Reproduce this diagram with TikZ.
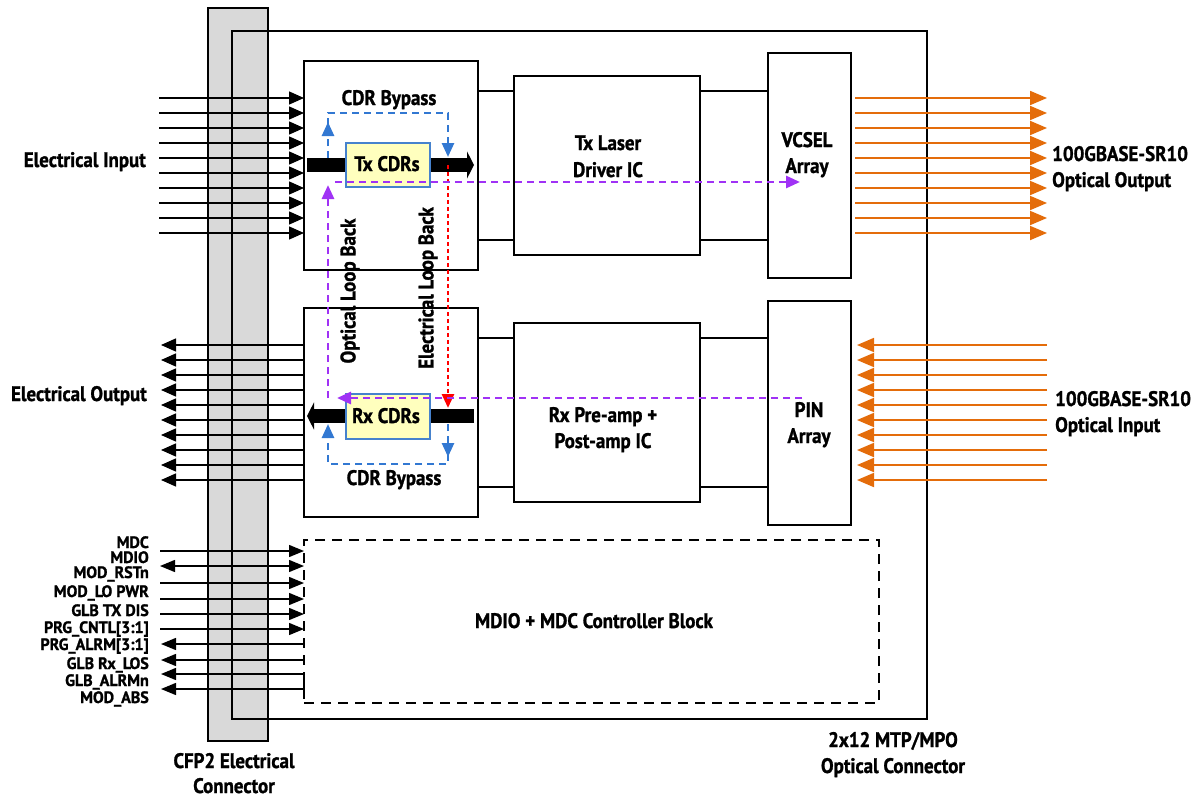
\documentclass[tikz,border=0pt]{standalone}
\usepackage{fontspec}
\setmainfont{PT Sans}[FakeStretch=0.9, BoldFeatures={FakeBold=1.2}]
\newfontfamily\sigfont{PT Sans}[FakeStretch=0.97, BoldFeatures={FakeBold=1.2}]
\usetikzlibrary{arrows.meta}
\definecolor{org}{RGB}{228,108,10}
\definecolor{prp}{RGB}{160,50,245}
\definecolor{blu}{RGB}{50,120,210}
\definecolor{cdrfill}{RGB}{255,255,190}
\definecolor{cdredge}{RGB}{70,130,205}
\definecolor{stripgray}{RGB}{217,217,217}
\tikzset{
  box/.style={draw, line width=1.4pt, inner sep=0pt, outer sep=0pt, anchor=north west},
  conn/.style={line width=1.4pt},
  lbl/.style={font=\fontsize{21}{24}\selectfont\bfseries, inner sep=0pt, anchor=base},
  siglbl/.style={font=\sigfont\fontsize{16.5}{17}\selectfont\bfseries, inner sep=0pt, anchor=base east, text height=11pt, text depth=1pt},
  blkarr/.style={line width=1.4pt, -{Triangle[length=15pt,width=13pt]}},
  sigarr/.style={line width=1.4pt, -{Triangle[length=15pt,width=12pt]}},
  orgarr/.style={line width=1.8pt, draw=org, -{Triangle[length=17pt,width=14pt]}, color=org},
  bar/.style={line width=14pt},
  prpdash/.style={draw=prp, line width=2.8pt, dash pattern=on 7pt off 5pt, -{Triangle[length=14pt,width=12pt]}, color=prp},
  bludash/.style={draw=blu, line width=2.6pt, dash pattern=on 7pt off 5pt},
  bluarr/.style={bludash, -{Triangle[length=14pt,width=12pt]}, color=blu},
  reddot/.style={draw=red, line width=2.8pt, dash pattern=on 4pt off 3pt, -{Triangle[length=14pt,width=12pt]}, color=red},
  cdrbox/.style={draw=cdredge, fill=cdrfill, line width=1.4pt, inner sep=0pt, outer sep=0pt, anchor=north west}
}
\begin{document}
\begin{tikzpicture}[x=1pt,y=-1pt]
\useasboundingbox (0,0) rectangle (1192,798);
% connector strip and outer module
\node[box, fill=stripgray, minimum width=60pt, minimum height=733pt] (strip) at (208,8) {};
\node[box, minimum width=695pt, minimum height=688pt] (outer) at (232,31) {};
% blocks
\node[box, fill=white, minimum width=174pt, minimum height=209pt] (txblk) at (304,61) {};
\node[box, fill=white, minimum width=174pt, minimum height=209pt] (rxblk) at (304,308) {};
\node[box, fill=white, minimum width=186pt, minimum height=179pt] (txic) at (514,76) {};
\node[box, fill=white, minimum width=186pt, minimum height=179pt] (rxic) at (514,323) {};
\node[box, fill=white, minimum width=83pt, minimum height=225pt] (vcsel) at (768,53) {};
\node[box, fill=white, minimum width=83pt, minimum height=224pt] (pin) at (768,301) {};
\node[box, dash pattern=on 10pt off 7pt, minimum width=575pt, minimum height=163pt] (mdiobox) at (304,540) {};
% block interconnects
\foreach \y in {91,240} {
  \coordinate (ty) at (0,\y);
  \draw[conn] (txblk.east |- ty) -- (txic.west |- ty);
  \draw[conn] (txic.east |- ty) -- (vcsel.west |- ty);
}
\foreach \y in {338,487} {
  \coordinate (ry) at (0,\y);
  \draw[conn] (rxblk.east |- ry) -- (rxic.west |- ry);
  \draw[conn] (rxic.east |- ry) -- (pin.west |- ry);
}
% electrical inputs / outputs
\foreach \i in {0,...,9} {
  \coordinate (ein) at (159,{98+15*\i});
  \draw[blkarr] (ein) -- (ein -| txblk.west);
  \coordinate (eout) at (161,{345+15*\i});
  \draw[blkarr] (eout -| rxblk.west) -- (eout);
  \coordinate (oout) at (1047,{98+15*\i});
  \draw[orgarr, shorten <=4pt] (oout -| vcsel.east) -- (oout);
  \coordinate (oin) at (1047,{345+15*\i});
  \draw[orgarr, shorten >=6pt] (oin) -- (oin -| pin.east);
}
% management signals
\foreach \y in {551,583,599,614,629} {
  \coordinate (sg) at (160,\y);
  \draw[sigarr] (sg) -- (sg -| mdiobox.west);
}
\coordinate (sgd) at (160,566);
\draw[line width=1.4pt, {Triangle[length=15pt,width=12pt]}-{Triangle[length=15pt,width=12pt]}] (sgd) -- (sgd -| mdiobox.west);
\foreach \y in {644,660,674,689} {
  \coordinate (sl) at (161,\y);
  \draw[sigarr] (sl -| mdiobox.west) -- (sl);
}
\draw[line width=1.4pt] (304,674) -- (304,689);
% CDR bars
\coordinate (txbarL) at (307,165);
\coordinate (txbarR) at (474,165);
\draw[bar, -{Triangle[length=7pt,width=27pt]}] (txbarL) -- (txbarR);
\coordinate (rxbarL) at (307,416);
\coordinate (rxbarR) at (474,416);
\draw[bar, -{Triangle[length=7pt,width=27pt]}] (rxbarR) -- (rxbarL);
\node[cdrbox, minimum width=84pt, minimum height=44pt] (txcdr) at (346,143) {};
\node[cdrbox, minimum width=84pt, minimum height=45pt] (rxcdr) at (346,394) {};
% CDR bypass paths
\coordinate (tb1) at (328,158);
\coordinate (tb2) at (328,122);
\coordinate (tb3) at (328,113);
\coordinate (tb4) at (448,113);
\coordinate (tb5) at (448,157);
\draw[bluarr] (tb1) -- (tb2);
\draw[bluarr] (328,125) -- (tb3) -- (tb4) -- (tb5);
\coordinate (rb1) at (448,424);
\coordinate (rb2) at (448,457);
\coordinate (rb3) at (448,464);
\coordinate (rb4) at (328,464);
\coordinate (rb5) at (328,424);
\draw[bluarr] (rb1) -- (rb2);
\draw[bluarr] (448,454) -- (rb3) -- (rb4) -- (rb5);
% loop backs
\coordinate (el1) at (448,165);
\coordinate (el2) at (448,408);
\draw[reddot] (el1) -- (el2);
\coordinate (ol1) at (335,182);
\coordinate (ol2) at (800,182);
\draw[prpdash] (ol1) -- (ol2);
\coordinate (ol3) at (802,398);
\coordinate (ol4) at (337,398);
\draw[prpdash] (ol3) -- (ol4);
\coordinate (ol5) at (328,398);
\coordinate (ol6) at (328,185);
\draw[prpdash] (ol5) -- (ol6);
% texts
\node[lbl] (cb1) at (389,105) {CDR Bypass};
\node[lbl] (cb2) at (394,485) {CDR Bypass};
\node[lbl] (txc) at (387,171) {Tx CDRs};
\node[lbl] (rxc) at (386,423) {Rx CDRs};
\node[lbl] (tl1) at (608,150) {Tx Laser};
\node[lbl] (tl2) at (608,177) {Driver IC};
\node[lbl] (rl1) at (603,422) {Rx Pre-amp +};
\node[lbl] (rl2) at (603,448) {Post-amp IC};
\node[lbl] (v1) at (807,147) {VCSEL};
\node[lbl] (v2) at (807,173) {Array};
\node[lbl] (p1) at (809,417) {PIN};
\node[lbl] (p2) at (809,443) {Array};
\node[lbl, anchor=base west] (oo1) at (1052,161) {100GBASE-SR10};
\node[lbl, anchor=base west] (oo2) at (1052,187) {Optical Output};
\node[lbl, anchor=base west] (oi1) at (1055,406) {100GBASE-SR10};
\node[lbl, anchor=base west] (oi2) at (1055,432) {Optical Input};
\node[lbl, anchor=base east] (ei) at (146,167) {Electrical Input};
\node[lbl, anchor=base east] (eo) at (147,401) {Electrical Output};
\node[lbl] (mdt) at (594,628) {MDIO + MDC Controller Block};
\node[lbl] (cfp1) at (234,768) {CFP2 Electrical};
\node[lbl] (cfp2) at (234,793) {Connector};
\node[lbl] (mtp1) at (893,747) {2x12 MTP/MPO};
\node[lbl] (mtp2) at (893,773) {Optical Connector};
\node[lbl, rotate=90, anchor=center] (olb) at (350,291) {Optical Loop Back};
\node[lbl, rotate=90, anchor=center] (elb) at (428,288) {Electrical Loop Back};
% management labels
\node[siglbl] (m1) at (149,548) {MDC};
\node[siglbl] (m2) at (149,563) {MDIO};
\node[siglbl] (m3) at (149,578) {MOD\_RSTn};
\node[siglbl] (m4) at (149,597) {MOD\_LO PWR};
\node[siglbl] (m5) at (149,616) {GLB TX DIS};
\node[siglbl] (m6) at (149,633) {PRG\_CNTL[3:1]};
\node[siglbl] (m7) at (149,650) {PRG\_ALRM[3:1]};
\node[siglbl] (m8) at (149,669) {GLB Rx\_LOS};
\node[siglbl] (m9) at (149,686) {GLB\_ALRMn};
\node[siglbl] (m10) at (149,703) {MOD\_ABS};
\end{tikzpicture}
\end{document}
